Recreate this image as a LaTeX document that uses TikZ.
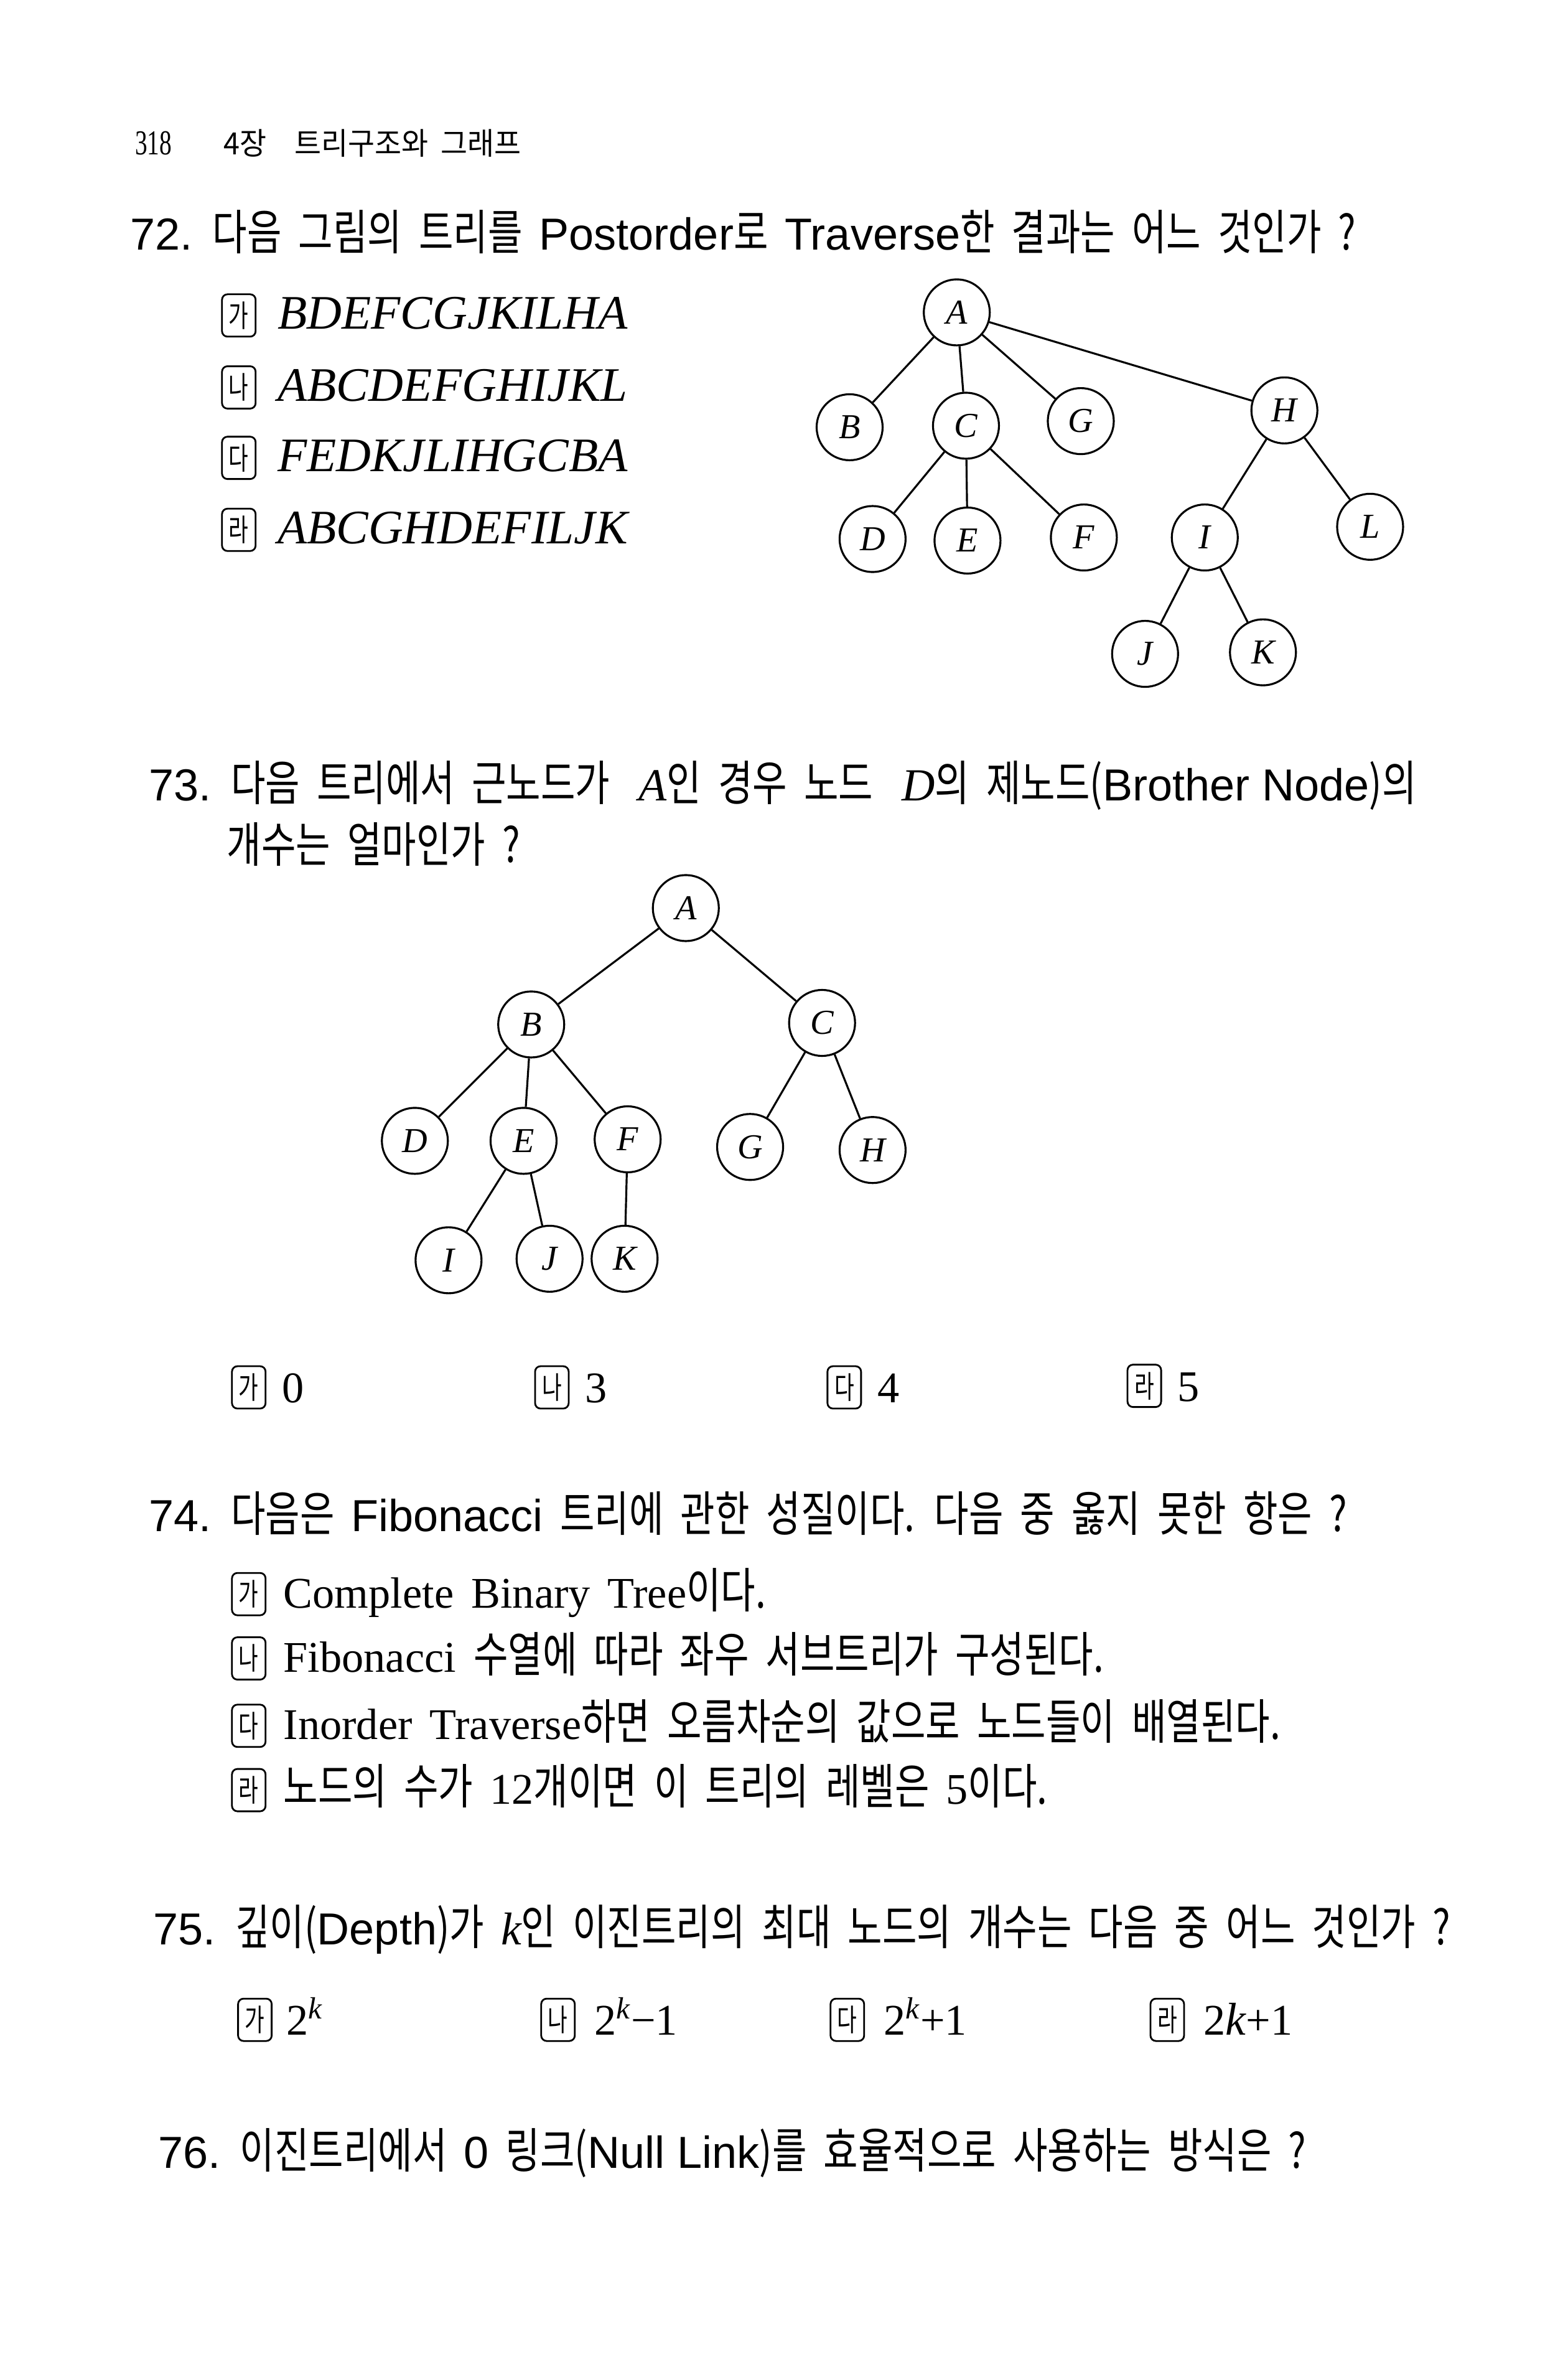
\documentclass[tikz,border=0pt]{standalone}
\usepackage{fontspec}
\setmainfont{Liberation Serif}[WordSpace=1.6]
\newfontfamily\hansans{Noto Sans CJK KR}[FakeStretch=0.78, WordSpace=2.0]
\newfontfamily\headhan{Noto Sans CJK KR}[FakeStretch=0.95]
\newfontfamily\latsans{Liberation Sans}
\newfontfamily\boxhan{Noto Sans CJK KR}[FakeStretch=0.7]
\newfontfamily\pageserif{Liberation Serif}[FakeStretch=0.7]
\newcommand{\ko}[1]{{\hansans\fontsize{22}{26}\selectfont #1}}
\newcommand{\en}[1]{{\latsans\fontsize{20.5}{24}\selectfont #1}}
\newcommand{\itl}[1]{{\rmfamily\itshape\fontsize{21}{24}\selectfont #1}}
\usepackage{tikz}

\begin{document}
\begin{tikzpicture}[
    x=0.0246cm, y=-0.0246cm,
    every node/.style={inner sep=0pt},
    treenode/.style={circle, draw, line width=0.9pt, minimum size=1.06cm,
        font=\fontsize{16}{16}\selectfont\itshape},
    edge/.style={line width=0.9pt},
    optbox/.style={draw, line width=0.8pt, rounded corners=2.5pt,
        minimum width=0.54cm, minimum height=0.68cm,
        font=\boxhan\fontsize{14}{14}\selectfont},
    qline/.style={anchor=base west, font=\hansans\fontsize{22}{26}\selectfont},
    optline/.style={anchor=base west, font=\fontsize{20}{24}\selectfont},
    pathline/.style={anchor=base west, font=\fontsize{22}{24}\selectfont\itshape}
]
\useasboundingbox (0,0) rectangle (1024,1549);

% Page header
\node[anchor=base west, font=\pageserif\fontsize{16}{16}\selectfont] (pagenum) at (88,101) {318};
\node[anchor=base west, font=\headhan\fontsize{14}{14}\selectfont] (chapter) at (146,101)
    {4장\hspace{0.45cm}트리구조와\hspace{0.2cm}그래프};

% Question 72
\node[qline] (q72) at (85,163)
    {\en{72.} 다음 그림의 트리를 \en{Postorder}로 \en{Traverse}한 결과는 어느 것인가 ?};

\node[optbox] (q72o1) at (156,206) {가};
\node[optbox] (q72o2) at (156,253) {나};
\node[optbox] (q72o3) at (156,299) {다};
\node[optbox] (q72o4) at (156,346) {라};
\node[pathline] (q72t1) at (181,215) {BDEFCGJKILHA};
\node[pathline] (q72t2) at (181,262) {ABCDEFGHIJKL};
\node[pathline] (q72t3) at (181,308) {FEDKJLIHGCBA};
\node[pathline] (q72t4) at (181,355) {ABCGHDEFILJK};

% Tree of question 72
\node[treenode] (tA) at (625,204) {A};
\node[treenode] (tB) at (555,279) {B};
\node[treenode] (tC) at (631,278) {C};
\node[treenode] (tG) at (706,275) {G};
\node[treenode] (tH) at (839,268) {H};
\node[treenode] (tD) at (570,352) {D};
\node[treenode] (tE) at (632,353) {E};
\node[treenode] (tF) at (708,351) {F};
\node[treenode] (tI) at (787,351) {I};
\node[treenode] (tL) at (895,344) {L};
\node[treenode] (tJ) at (748,427) {J};
\node[treenode] (tK) at (825,426) {K};

\draw[edge] (tA) -- (tB);
\draw[edge] (tA) -- (tC);
\draw[edge] (tA) -- (tG);
\draw[edge] (tA) -- (tH);
\draw[edge] (tC) -- (tD);
\draw[edge] (tC) -- (tE);
\draw[edge] (tC) -- (tF);
\draw[edge] (tH) -- (tI);
\draw[edge] (tH) -- (tL);
\draw[edge] (tI) -- (tJ);
\draw[edge] (tI) -- (tK);

% Question 73
\node[qline] (q73a) at (97,523)
    {\en{73.} 다음 트리에서 근노드가 \hspace{0.25em}\itl{A}인 경우 노드 \hspace{0.25em}\itl{D}의 제노드(\en{Brother Node})의};
\node[qline] (q73b) at (148,563) {개수는 얼마인가 ?};

% Tree of question 73
\node[treenode] (uA) at (448,593) {A};
\node[treenode] (uB) at (347,669) {B};
\node[treenode] (uC) at (537,668) {C};
\node[treenode] (uD) at (271,745) {D};
\node[treenode] (uE) at (342,745) {E};
\node[treenode] (uF) at (410,744) {F};
\node[treenode] (uG) at (490,749) {G};
\node[treenode] (uH) at (570,751) {H};
\node[treenode] (uI) at (293,823) {I};
\node[treenode] (uJ) at (359,822) {J};
\node[treenode] (uK) at (408,822) {K};

\draw[edge] (uA) -- (uB);
\draw[edge] (uA) -- (uC);
\draw[edge] (uB) -- (uD);
\draw[edge] (uB) -- (uE);
\draw[edge] (uB) -- (uF);
\draw[edge] (uC) -- (uG);
\draw[edge] (uC) -- (uH);
\draw[edge] (uE) -- (uI);
\draw[edge] (uE) -- (uJ);
\draw[edge] (uF) -- (uK);

\node[optbox] (q73o1) at (162.5,906) {가};
\node[optbox] (q73o2) at (360.5,906) {나};
\node[optbox] (q73o3) at (551.5,906) {다};
\node[optbox] (q73o4) at (747.5,905) {라};
\node[optline] (q73t1) at (184,916) {0};
\node[optline] (q73t2) at (382,916) {3};
\node[optline] (q73t3) at (573,916) {4};
\node[optline] (q73t4) at (769,915) {5};

% Question 74
\node[qline] (q74) at (97,1000)
    {\en{74.} 다음은 \en{Fibonacci} 트리에 관한 성질이다. 다음 중 옳지 못한 항은 ?};

\node[optbox] (q74o1) at (162.5,1041) {가};
\node[optbox] (q74o2) at (162.5,1083) {나};
\node[optbox] (q74o3) at (162.5,1127) {다};
\node[optbox] (q74o4) at (162.5,1169) {라};
\node[optline] (q74t1) at (185,1050) {Complete Binary Tree\ko{이다.}};
\node[optline] (q74t2) at (185,1092) {Fibonacci \ko{수열에 따라 좌우 서브트리가 구성된다.}};
\node[optline] (q74t3) at (185,1136) {Inorder Traverse\ko{하면 오름차순의 값으로 노드들이 배열된다.}};
\node[optline] (q74t4) at (185,1178) {\ko{노드의 수가 }12\ko{개이면 이 트리의 레벨은 }5\ko{이다.}};

% Question 75
\node[qline] (q75) at (100,1270)
    {\en{75.} 깊이(\en{Depth})가 \itl{k}인 이진트리의 최대 노드의 개수는 다음 중 어느 것인가 ?};

\node[optbox] (q75o1) at (166.5,1319) {가};
\node[optbox] (q75o2) at (364.5,1319) {나};
\node[optbox] (q75o3) at (553.5,1319) {다};
\node[optbox] (q75o4) at (762.5,1319) {라};
\node[optline] (q75t1) at (187,1329) {2\textsuperscript{\itshape k}};
\node[optline] (q75t2) at (388,1329) {2\textsuperscript{\itshape k}−1};
\node[optline] (q75t3) at (577,1329) {2\textsuperscript{\itshape k}+1};
\node[optline] (q75t4) at (786,1329) {2\itl{k}+1};

% Question 76
\node[qline] (q76) at (103,1416)
    {\en{76.} 이진트리에서 \en{0} 링크(\en{Null Link})를 효율적으로 사용하는 방식은 ?};

\end{tikzpicture}
\end{document}
